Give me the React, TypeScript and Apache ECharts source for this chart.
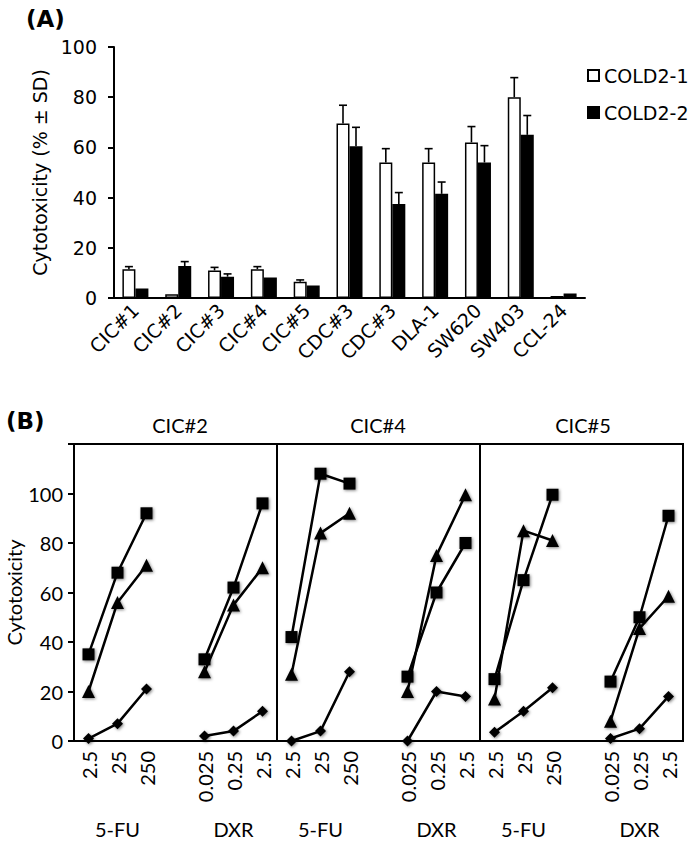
import React, { useEffect, useRef } from "react";
import * as echarts from "echarts";

// ---------- Panel A data ----------
const cellLines = ["CIC#1", "CIC#2", "CIC#3", "CIC#4", "CIC#5", "CDC#3", "CDC#3", "DLA-1", "SW620", "SW403", "CCL-24"];
const cold21 = [11.5, 1.5, 11, 11.5, 6.5, 69.5, 54, 54, 62, 80, 0.8];
const cold21Sd = [1, 0, 1.2, 1, 0.7, 7.3, 5.5, 5.5, 6.3, 7.8, 0];
const cold22 = [3.8, 12.7, 8.5, 8.2, 5, 60.5, 37.5, 41.5, 54, 65, 1.8];
const cold22Sd = [0, 1.8, 1.1, 0, 0, 7.5, 4.5, 4.7, 6.7, 7.7, 0];
const yTicksA = [0, 20, 40, 60, 80, 100];

// ---------- Panel B data ----------
const fuDoses = ["2.5", "25", "250"];
const dxrDoses = ["0.025", "0.25", "2.5"];
const panelTitles = ["CIC#2", "CIC#4", "CIC#5"];
// 5-FU values per panel
const fuSquare = [[35, 68, 92], [42, 108, 104], [25, 65, 99.5]];
const fuTriangle = [[20, 56, 71], [27, 84, 92], [17, 85, 81]];
const fuDiamond = [[1, 7, 21], [0, 4, 28], [3.5, 12, 21.5]];
// DXR values per panel
const dxrSquare = [[33, 62, 96], [26, 60, 80], [24, 50, 91]];
const dxrTriangle = [[28, 55, 70], [20, 75, 99.5], [8, 45.5, 58.5]];
const dxrDiamond = [[2, 4, 12], [0, 20, 18], [1, 5, 18]];

const doseLabels = [...fuDoses, "", ...dxrDoses];
const drugLabels = ["", "5-FU", "", "", "", "DXR", ""];

const BAR_W = 13;

function errorSeries(values: number[], sds: number[], offset: number) {
  return {
    type: "custom",
    xAxisIndex: 0,
    yAxisIndex: 0,
    z: 5,
    data: values.map((v, i) => [i, v, sds[i]]),
    renderItem: (params: any, api: any) => {
      const ci = api.value(0);
      const v = api.value(1);
      const sd = api.value(2);
      if (!sd) return null;
      const base = api.coord([ci, v]);
      const top = api.coord([ci, v + sd]);
      const x = base[0] + offset;
      return {
        type: "group",
        children: [
          { type: "line", shape: { x1: x, y1: base[1], x2: x, y2: top[1] }, style: { stroke: "#000", lineWidth: 1.6 } },
          { type: "line", shape: { x1: x - 4, y1: top[1], x2: x + 4, y2: top[1] }, style: { stroke: "#000", lineWidth: 1.6 } },
        ],
      };
    },
  };
}

const join = (a: number[], b: number[]) => [...a, "-", ...b];

export default function App() {
  const ref = useRef<HTMLDivElement>(null);
  useEffect(() => {
    document.body.style.margin = "0";
    const chart = echarts.init(ref.current!, undefined, { renderer: "svg" });

    const gridsB = [0, 1, 2].map((i) => ({
      left: 74 + i * 203,
      top: 444,
      width: 203,
      height: 297,
      show: true,
      borderColor: "#000",
      borderWidth: 2,
    }));

    const xAxesB = [0, 1, 2].map((i) => ({
      type: "category",
      gridIndex: i + 1,
      data: doseLabels,
      axisLine: { lineStyle: { color: "#000", width: 2 } },
      axisTick: { length: 6, interval: 0, lineStyle: { color: "#000", width: 2 } },
      axisLabel: { rotate: 90, interval: 0, fontFamily: "Lato", fontSize: 20, color: "#000", margin: 10 },
    }));
    const drugAxesB = [0, 1, 2].map((i) => ({
      type: "category",
      gridIndex: i + 1,
      data: drugLabels,
      position: "bottom",
      offset: 70,
      axisLine: { show: false },
      axisTick: { show: false },
      axisLabel: { interval: 0, fontFamily: "Lato", fontSize: 20, color: "#000", margin: 8 },
    }));
    const yAxesB = [0, 1, 2].map((i) => ({
      type: "value",
      gridIndex: i + 1,
      min: 0,
      max: 120,
      interval: 20,
      show: i === 0,
      splitLine: { show: false },
      axisLine: { show: true, lineStyle: { color: "#000", width: 2 } },
      axisTick: { show: true, length: 6, lineStyle: { color: "#000", width: 2 } },
      axisLabel: {
        fontFamily: "Lato",
        fontSize: 20,
        color: "#000",
        margin: 11,
        formatter: (v: number) => (v === 120 ? "" : String(v)),
      },
      name: i === 0 ? "Cytotoxicity" : "",
      nameLocation: "middle",
      nameGap: 46,
      nameTextStyle: { fontFamily: "Lato", fontSize: 20, color: "#000" },
    }));

    const markerDefs = [
      { symbol: "rect", size: 12, fu: fuSquare, dxr: dxrSquare },
      { symbol: "triangle", size: 13, fu: fuTriangle, dxr: dxrTriangle },
      { symbol: "diamond", size: 11, fu: fuDiamond, dxr: dxrDiamond },
    ];
    const seriesB: any[] = [];
    [0, 1, 2].forEach((p) => {
      markerDefs.forEach((m) => {
        seriesB.push({
          type: "line",
          xAxisIndex: p + 1,
          yAxisIndex: p + 1,
          data: join(m.fu[p], m.dxr[p]),
          symbol: m.symbol,
          symbolSize: m.size,
          showSymbol: true,
          connectNulls: false,
          lineStyle: { color: "#000", width: 2.5 },
          itemStyle: {
            color: "#000",
            shadowBlur: 3,
            shadowColor: "rgba(0,0,0,0.5)",
            shadowOffsetX: 1,
            shadowOffsetY: 1,
          },
          z: 3,
        });
      });
    });

    const option: any = {
      animation: false,
      textStyle: { fontFamily: "DejaVu Sans", color: "#000" },
      grid: [{ left: 114, top: 47, width: 471, height: 251 }, ...gridsB],
      legend: {
        data: ["COLD2-1", "COLD2-2"],
        orient: "vertical",
        left: 582,
        top: 61,
        icon: "rect",
        itemWidth: 11,
        itemHeight: 11,
        itemGap: 18,
        textStyle: { fontSize: 19, color: "#000", fontFamily: "DejaVu Sans" },
      },
      xAxis: [
        {
          type: "category",
          gridIndex: 0,
          data: cellLines,
          axisLine: { lineStyle: { color: "#000", width: 2 } },
          axisTick: { length: 6, interval: 0, lineStyle: { color: "#000", width: 2 } },
          axisLabel: { rotate: 45, interval: 0, fontSize: 19, color: "#000", margin: 9 },
        },
        ...xAxesB,
        ...drugAxesB,
      ],
      yAxis: [
        {
          type: "value",
          gridIndex: 0,
          min: yTicksA[0],
          max: yTicksA[yTicksA.length - 1],
          interval: 20,
          splitLine: { show: false },
          axisLine: { show: true, lineStyle: { color: "#000", width: 2 } },
          axisTick: { show: true, length: 6, lineStyle: { color: "#000", width: 2 } },
          axisLabel: { fontSize: 19, color: "#000", margin: 17 },
          name: "Cytotoxicity (% ± SD)",
          nameLocation: "middle",
          nameGap: 58,
          nameTextStyle: { fontSize: 19, color: "#000" },
        },
        ...yAxesB,
      ],
      series: [
        {
          name: "COLD2-1",
          type: "bar",
          xAxisIndex: 0,
          yAxisIndex: 0,
          data: cold21,
          barWidth: BAR_W,
          barGap: "0%",
          itemStyle: { color: "#fff", borderColor: "#000", borderWidth: 1.5 },
        },
        {
          name: "COLD2-2",
          type: "bar",
          xAxisIndex: 0,
          yAxisIndex: 0,
          data: cold22,
          barWidth: BAR_W,
          barGap: "0%",
          itemStyle: { color: "#000", borderColor: "#000", borderWidth: 1.5 },
        },
        errorSeries(cold21, cold21Sd, -BAR_W / 2),
        errorSeries(cold22, cold22Sd, BAR_W / 2),
        ...seriesB,
      ],
      graphic: [
        { type: "text", left: 26, top: 7, style: { text: "(A)", font: "bold 23px 'DejaVu Sans'", fill: "#000" } },
        { type: "text", left: 6, top: 409, style: { text: "(B)", font: "bold 23px 'DejaVu Sans'", fill: "#000" } },
        ...panelTitles.map((t, i) => ({
          type: "text",
          x: [180, 378, 583][i],
          y: 425,
          style: { text: t, font: "20px Lato", fill: "#000", textAlign: "center", textVerticalAlign: "middle" },
        })),
      ],
    };
    chart.setOption(option);
    return () => chart.dispose();
  }, []);
  return <div ref={ref} style={{ width: 692, height: 844 }} />;
}
